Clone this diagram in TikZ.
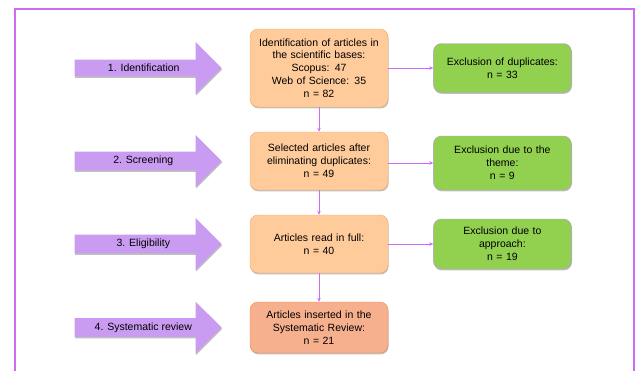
\documentclass[tikz,border=0pt]{standalone}
\usepackage{fontspec}
\setmainfont{Liberation Sans}
\usetikzlibrary{
	positioning,
	arrows.meta,
	shapes.arrows,
	shadows
}

\definecolor{stagefill}{HTML}{C99CF2}
\definecolor{framepurple}{HTML}{CC6CF5}
\definecolor{peach}{HTML}{FFCB9A}
\definecolor{peachline}{HTML}{F2A86A}
\definecolor{salmon}{HTML}{F6B08E}
\definecolor{salmonline}{HTML}{EE8A4C}
\definecolor{leaf}{HTML}{92D050}
\definecolor{leafline}{HTML}{B89CC8}

\tikzset{
	every node/.style={font=\fontsize{10.5}{12.8}\selectfont},
	softshadow/.style={drop shadow={shadow xshift=0.6pt, shadow yshift=-1.4pt, opacity=0.35, fill=black!70}},
	stage/.style={single arrow, fill=stagefill, softshadow, minimum width=52pt,
		minimum height=147pt, single arrow head extend=12.5pt, inner sep=2pt},
	phase/.style={rounded corners=8pt, fill=peach, draw=peachline, softshadow,
		text width=128pt, inner sep=5pt, align=center},
	exclusion/.style={rounded corners=8pt, fill=leaf, draw=leafline, softshadow,
		text width=128pt, inner sep=5pt, align=center},
	link/.style={draw=framepurple, line width=0.9pt, -{Stealth[length=4pt,width=3.5pt]}}
}

\begin{document}
\begin{tikzpicture}[x=1pt, y=-1pt]
	\useasboundingbox (0,0) rectangle (638,370);
	\fill[white] (0,0) rectangle (638,370);
	\draw[framepurple, line width=1.2pt] (15,9) rectangle (634,385);

	% stages of the review
	\node[phase, minimum height=78pt] (id) at (319,68)
		{Identification of articles in\\the scientific bases:\\Scopus: 47\\Web of Science: 35\\n = 82};
	\node[phase, minimum height=58pt] (sel) at (319,161)
		{Selected articles after\\eliminating duplicates:\\n = 49};
	\node[phase, minimum height=58pt] (full) at (319,244)
		{Articles read in full:\\n = 40};
	\node[phase, fill=salmon, draw=salmonline, minimum height=51pt] (final) at (319,327.5)
		{Articles inserted in the\\Systematic Review:\\n = 21};

	% exclusions
	\node[exclusion, minimum height=49pt, right=45pt of id] (dup)
		{Exclusion of duplicates:\\n = 33};
	\node[exclusion, minimum height=54pt, right=45pt of sel, yshift=-2pt] (theme)
		{Exclusion due to the\\theme:\\n = 9};
	\node[exclusion, minimum height=50pt, right=45pt of full] (appr)
		{Exclusion due to\\approach:\\n = 19};

	% phase arrows
	\node[stage, left=28pt of id] (s1) {1. Identification};
	\node[stage, left=28pt of sel] (s2) {2. Screening};
	\node[stage, left=28pt of full] (s3) {3. Eligibility};
	\node[stage, left=28pt of final] (s4) {4. Systematic review};

	\draw[link] (id) -- (sel);
	\draw[link] (sel) -- (full);
	\draw[link] (full) -- (final);
	\draw[link] (id.east |- dup.west) -- (dup.west);
	\draw[link] (sel.east |- theme.west) -- (theme.west);
	\draw[link] (full.east |- appr.west) -- (appr.west);
\end{tikzpicture}
\end{document}
